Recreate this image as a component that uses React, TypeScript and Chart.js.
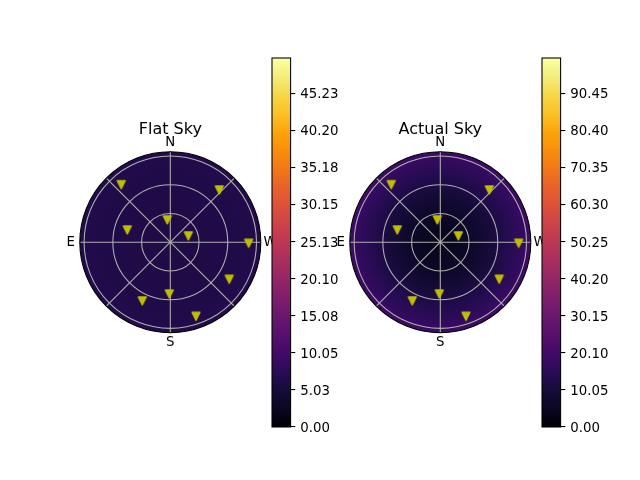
import React, { useEffect, useRef } from "react";
import { Chart, registerables } from "chart.js";

Chart.register(...registerables);

// ---------- data ----------
const directionLabels = ["N", "E", "S", "W"];
const directionAzimuths = [0, 90, 180, 270];
const spokeAzimuths = [0, 45, 90, 135, 180, 225, 270, 315];
const zenithRings = [30, 60, 90];
const zenithMax = 94.5;

const starAzimuth = [40.5, 316.8, 7.7, 74.2, 289.0, 269.2, 237.8, 178.9, 154.5, 199.1];
const starZenith = [78.9, 74.7, 23.4, 46.7, 19.9, 81.8, 72.7, 54.1, 68.0, 81.9];

const skyZenithLevels = [0, 10, 20, 30, 40, 50, 60, 70, 80, 90, 94.5];
const flatSkyValues = [6.1, 6.1, 6.2, 6.2, 6.2, 6.3, 6.3, 6.3, 6.4, 6.4, 6.5];
const actualSkyValues = [3.8, 4.2, 5.0, 6.4, 8.0, 9.8, 11.6, 13.6, 15.6, 18.0, 19.5];

const flatSkyTicks = [0, 5.03, 10.05, 15.08, 20.1, 25.13, 30.15, 35.18, 40.2, 45.23];
const actualSkyTicks = [0, 10.05, 20.1, 30.15, 40.2, 50.25, 60.3, 70.35, 80.4, 90.45];
const flatSkyMax = 50;
const actualSkyMax = 100;

// ---------- colormap ----------
const infernoStops = [
  "#000004", "#0a0722", "#160b39", "#2a0b57", "#420a68", "#57106d", "#6a176e",
  "#7f1e6c", "#932667", "#a82e5f", "#bc3754", "#cd4347", "#dd513a", "#e9612b",
  "#f37819", "#f98e09", "#fca50a", "#fac228", "#f6d746", "#f3ee7a", "#fcffa4",
];

function hexToRgb(h: string) {
  return [parseInt(h.slice(1, 3), 16), parseInt(h.slice(3, 5), 16), parseInt(h.slice(5, 7), 16)];
}

function inferno(t: number) {
  const tt = Math.max(0, Math.min(1, t));
  const n = infernoStops.length - 1;
  const f = tt * n;
  const i = Math.min(n - 1, Math.floor(f));
  const w = f - i;
  const a = hexToRgb(infernoStops[i]);
  const b = hexToRgb(infernoStops[i + 1]);
  const c = a.map((v, k) => Math.round(v + (b[k] - v) * w));
  return `rgb(${c[0]},${c[1]},${c[2]})`;
}

const FONT = '"DejaVu Sans", sans-serif';

function makeTriangle() {
  const c = document.createElement("canvas");
  c.width = 12;
  c.height = 12;
  const t = c.getContext("2d")!;
  t.beginPath();
  t.moveTo(2, 2);
  t.lineTo(10, 2);
  t.lineTo(6, 10);
  t.closePath();
  t.fillStyle = "#bfbf00";
  t.fill();
  t.strokeStyle = "#bfbf00";
  t.lineWidth = 1.33;
  t.lineJoin = "round";
  t.stroke();
  return c;
}

const polarPlugin = {
  id: "polarSky",
  beforeDatasetsDraw(chart: any, _args: any, opts: any) {
    const { ctx } = chart;
    const x = chart.scales.x;
    const y = chart.scales.y;
    const cx = x.getPixelForValue(0);
    const cy = y.getPixelForValue(0);
    const R = x.getPixelForValue(zenithMax) - cx;
    ctx.save();
    const g = ctx.createRadialGradient(cx, cy, 0, cx, cy, R);
    skyZenithLevels.forEach((z, i) => {
      g.addColorStop(z / zenithMax, inferno(opts.values[i] / opts.max));
    });
    ctx.beginPath();
    ctx.arc(cx, cy, R, 0, Math.PI * 2);
    ctx.fillStyle = g;
    ctx.fill();

    ctx.strokeStyle = "#b0b0b0";
    ctx.lineWidth = 1.07;
    zenithRings.forEach((z) => {
      ctx.beginPath();
      ctx.arc(cx, cy, x.getPixelForValue(z) - cx, 0, Math.PI * 2);
      ctx.stroke();
    });
    spokeAzimuths.forEach((az) => {
      const r = (az * Math.PI) / 180;
      ctx.beginPath();
      ctx.moveTo(cx, cy);
      ctx.lineTo(
        x.getPixelForValue(-zenithMax * Math.sin(r)),
        y.getPixelForValue(zenithMax * Math.cos(r))
      );
      ctx.stroke();
    });
    ctx.restore();
  },
  afterDatasetsDraw(chart: any, _args: any, opts: any) {
    const { ctx } = chart;
    const x = chart.scales.x;
    const y = chart.scales.y;
    const cx = x.getPixelForValue(0);
    const cy = y.getPixelForValue(0);
    const R = x.getPixelForValue(zenithMax) - cx;
    ctx.save();
    ctx.strokeStyle = "#000";
    ctx.lineWidth = 1.07;
    ctx.beginPath();
    ctx.arc(cx, cy, R, 0, Math.PI * 2);
    ctx.stroke();

    ctx.fillStyle = "#000";
    ctx.font = `13.33px ${FONT}`;
    ctx.textAlign = "center";
    ctx.textBaseline = "middle";
    const lr = R + 9.2;
    directionLabels.forEach((lab, i) => {
      const r = (directionAzimuths[i] * Math.PI) / 180;
      ctx.fillText(lab, cx - lr * Math.sin(r), cy - lr * Math.cos(r) + 0.5);
    });

    ctx.font = `16px ${FONT}`;
    ctx.textBaseline = "alphabetic";
    ctx.fillText(opts.title, cx, cy - 107.8);
    ctx.restore();
  },
};

const colorbarPlugin = {
  id: "colorbarFill",
  beforeDatasetsDraw(chart: any, _args: any, opts: any) {
    const { ctx, chartArea: a } = chart;
    const y = chart.scales.y;
    const y0 = y.getPixelForValue(0);
    const y1 = y.getPixelForValue(opts.max);
    ctx.save();
    const g = ctx.createLinearGradient(0, y0, 0, y1);
    infernoStops.forEach((c, i) => g.addColorStop(i / (infernoStops.length - 1), c));
    ctx.fillStyle = g;
    ctx.fillRect(a.left, y1, a.right - a.left, y0 - y1);
    ctx.strokeStyle = "#000";
    ctx.lineWidth = 1.07;
    ctx.strokeRect(a.left, y1, a.right - a.left, y0 - y1);
    ctx.restore();
  },
};

function PolarSky(props: { left: number; title: string; values: number[]; max: number }) {
  const ref = useRef<HTMLCanvasElement | null>(null);
  useEffect(() => {
    const marker = makeTriangle();
    const points = starAzimuth.map((az, i) => {
      const r = (az * Math.PI) / 180;
      return { x: -starZenith[i] * Math.sin(r), y: starZenith[i] * Math.cos(r) };
    });
    const chart = new Chart(ref.current!, {
      type: "scatter",
      data: {
        datasets: [
          {
            data: points,
            pointStyle: marker as any,
            pointRadius: 5,
            pointHoverRadius: 5,
          },
        ],
      },
      options: {
        responsive: false,
        animation: false,
        events: [],
        layout: { padding: { left: 39.8, right: 39.2, top: 51.7, bottom: 27.3 } },
        scales: {
          x: { type: "linear", min: -zenithMax, max: zenithMax, display: false },
          y: { type: "linear", min: -zenithMax, max: zenithMax, display: false },
        },
        plugins: {
          legend: { display: false },
          tooltip: { enabled: false },
          polarSky: { title: props.title, values: props.values, max: props.max },
        } as any,
      },
      plugins: [polarPlugin],
    });
    return () => chart.destroy();
  }, []);
  return (
    <canvas
      ref={ref}
      width={260}
      height={260}
      style={{ position: "absolute", left: props.left, top: 100, width: 260, height: 260 }}
    />
  );
}

function Colorbar(props: { left: number; ticks: number[]; max: number }) {
  const ref = useRef<HTMLCanvasElement | null>(null);
  useEffect(() => {
    const chart = new Chart(ref.current!, {
      type: "scatter",
      data: { datasets: [] },
      options: {
        responsive: false,
        animation: false,
        events: [],
        layout: { padding: { left: 10, right: 11.4, top: 18, bottom: 13 } },
        scales: {
          x: { type: "linear", display: false },
          y: {
            type: "linear",
            position: "right",
            min: 0,
            max: props.max,
            afterBuildTicks: (s: any) => {
              s.ticks = props.ticks.map((v) => ({ value: v }));
            },
            afterFit: (s: any) => {
              s.width = 50;
            },
            border: { display: false },
            grid: {
              drawOnChartArea: false,
              drawTicks: true,
              tickLength: 4.67,
              color: "#000",
              lineWidth: 1.07,
            },
            ticks: {
              autoSkip: false,
              padding: 5,
              labelOffset: 1.5,
              color: "#000",
              font: { family: FONT, size: 13.33 },
              callback: (v: any) => Number(v).toFixed(2),
            },
          },
        },
        plugins: {
          legend: { display: false },
          tooltip: { enabled: false },
          colorbarFill: { max: props.max },
        } as any,
      },
      plugins: [colorbarPlugin],
    });
    return () => chart.destroy();
  }, []);
  return (
    <canvas
      ref={ref}
      width={90}
      height={400}
      style={{ position: "absolute", left: props.left, top: 40, width: 90, height: 400 }}
    />
  );
}

export default function App() {
  return (
    <div
      style={{
        position: "fixed",
        left: 0,
        top: 0,
        width: 640,
        height: 480,
        background: "#fff",
        overflow: "hidden",
      }}
    >
      <PolarSky left={40} title="Flat Sky" values={flatSkyValues} max={flatSkyMax} />
      <Colorbar left={262.2} ticks={flatSkyTicks} max={flatSkyMax} />
      <PolarSky left={310} title="Actual Sky" values={actualSkyValues} max={actualSkyMax} />
      <Colorbar left={532.2} ticks={actualSkyTicks} max={actualSkyMax} />
    </div>
  );
}
